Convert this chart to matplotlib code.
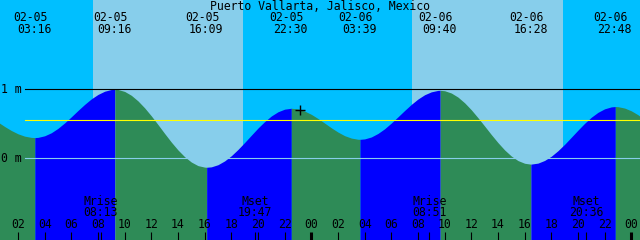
import matplotlib
matplotlib.use("Agg")
import matplotlib.pyplot as plt
import matplotlib.transforms as mtransforms
import numpy as np

# ---------------- data ----------------
title = "Puerto Vallarta, Jalisco, Mexico"

# half-hourly tide heights (m), hours counted from 02-05 00:00
hours = np.arange(0, 49.5, 0.5)
heights = [0.591, 0.525, 0.461, 0.403, 0.355, 0.321, 0.303, 0.303, 0.326, 0.370,
           0.434, 0.513, 0.601, 0.693, 0.781, 0.861, 0.925, 0.972, 0.997, 0.997,
           0.969, 0.913, 0.832, 0.731, 0.615, 0.489, 0.360, 0.235, 0.121, 0.023,
           -0.054, -0.106, -0.128, -0.124, -0.093, -0.038, 0.037, 0.128, 0.229, 0.334,
           0.438, 0.532, 0.613, 0.674, 0.712, 0.725, 0.715, 0.684, 0.637, 0.577,
           0.510, 0.442, 0.380, 0.328, 0.293, 0.276, 0.281, 0.309, 0.360, 0.428,
           0.511, 0.601, 0.693, 0.781, 0.859, 0.921, 0.963, 0.984, 0.979, 0.946,
           0.887, 0.804, 0.703, 0.588, 0.467, 0.344, 0.227, 0.121, 0.033, -0.033,
           -0.072, -0.084, -0.070, -0.031, 0.030, 0.110, 0.203, 0.305, 0.408, 0.507,
           0.595, 0.666, 0.717, 0.745, 0.748, 0.728, 0.688, 0.631, 0.560]

# high / low tide events
extreme_times = ["02-05 03:16", "02-05 09:16", "02-05 16:09", "02-05 22:30",
                 "02-06 03:39", "02-06 09:40", "02-06 16:28", "02-06 22:48"]
extreme_heights = [0.30, 1.00, -0.13, 0.725, 0.275, 0.985, -0.085, 0.75]

sunrise_times = ["02-05 07:38", "02-06 07:33"]
sunset_times = ["02-05 18:53", "02-06 18:53"]

moon_events = ["Mrise", "Mset", "Mrise", "Mset"]
moon_times = ["02-05 08:13", "02-05 19:47", "02-06 08:51", "02-06 20:36"]

now_time = "02-05 23:09"
now_height = 0.70

msl_level = 0.55
ref_levels = [0, 1]
ref_labels = ["0 m", "1 m"]

tick_hours = list(range(2, 49, 2))

# ---------------- style ----------------
NIGHT = "#00BFFF"
DAY = "#87CEEB"
FLOOD = "#0000FF"
EBB = "#2E8B57"
DATUM = "#87CEEB"
FONT = "DejaVu Sans Mono"
FS = 8.3

W, H = 640, 240
T0 = 0.6525          # view start (hours)
SPAN = 48.0
YTOP, YBOT = 2.294, -1.184


def to_hours(s):
    day = int(s[3:5]) - 5
    return day * 24 + int(s[6:8]) + int(s[9:11]) / 60.0


ext_t = [to_hours(s) for s in extreme_times]

# merged curve
pts = sorted(set(list(zip(hours.tolist(), heights)) + list(zip(ext_t, extreme_heights))))
t = np.array([p[0] for p in pts])
h = np.array([p[1] for p in pts])

fig = plt.figure(figsize=(W / 100, H / 100), dpi=100)
ax = fig.add_axes([0, 0, 1, 1])
ax.set_xlim(T0, T0 + SPAN)
ax.set_ylim(YBOT, YTOP)
ax.axis("off")
ax.add_patch(plt.Rectangle((0, 0), 1, 1, transform=ax.transAxes,
                           color=NIGHT, zorder=0, lw=0))

for sr, ss in zip(sunrise_times, sunset_times):
    ax.axvspan(to_hours(sr), to_hours(ss), color=DAY, lw=0, zorder=1)

# water, coloured by rising / falling
rising = h[1:] > h[:-1]
start = 0
for i in range(1, len(rising) + 1):
    if i == len(rising) or rising[i] != rising[start]:
        col = FLOOD if rising[start] else EBB
        ax.fill_between(t[start:i + 1], h[start:i + 1], YBOT - 1,
                        color=col, lw=0, zorder=2, antialiased=False)
        start = i

px = lambda p: p / W  # pixel -> axes x fraction
py = lambda p: 1 - p / H  # pixel from top -> axes y fraction

# reference lines
for lvl, col in zip(ref_levels, [DATUM, "black"]):
    ax.axhline(lvl, xmin=px(25), xmax=1, color=col, lw=0.8, zorder=3)
ax.axhline(msl_level, xmin=px(25), xmax=1, color="yellow", lw=0.8, zorder=3)

for lvl, lab in zip(ref_levels, ref_labels):
    ax.text(px(1), lvl, lab, transform=mtransforms.blended_transform_factory(
        ax.transAxes, ax.transData), ha="left", va="center",
        fontsize=FS, family=FONT, color="black", zorder=5)

# "now" marker
ax.plot([to_hours(now_time)], [now_height], marker="+", color="black",
        ms=7, mew=1.0, zorder=5)

bt = mtransforms.blended_transform_factory(ax.transData, ax.transAxes)

# title and tide event labels
ax.text(0.5, py(6), title, transform=ax.transAxes, ha="center", va="center",
        fontsize=FS, family=FONT, zorder=5)
for s, tt in zip(extreme_times, ext_t):
    ax.text(tt - 4.5 / 13.333, py(17.5), s[:5], transform=bt, ha="center",
            va="center", fontsize=FS, family=FONT, zorder=5)
    ax.text(tt - 0.5 / 13.333, py(29.5), s[6:], transform=bt, ha="center",
            va="center", fontsize=FS, family=FONT, zorder=5)

# moon events
for ev, s in zip(moon_events, moon_times):
    mt = to_hours(s)
    ax.text(mt, py(201.5), ev, transform=bt, ha="center", va="center",
            fontsize=FS, family=FONT, zorder=5)
    ax.text(mt, py(213), s[6:], transform=bt, ha="center", va="center",
            fontsize=FS, family=FONT, zorder=5)
    ax.vlines(mt, 0, py(232), transform=bt, color="black", lw=0.8, zorder=5)

# hour ticks
for th in tick_hours:
    lw = 2.2 if th % 24 == 0 else 0.8
    ax.vlines(th, 0, py(232), transform=bt, color="black", lw=lw, zorder=5)
    ax.text(th, py(225), "%02d" % (th % 24), transform=bt, ha="center",
            va="center", fontsize=FS, family=FONT, zorder=5)

fig.savefig("out.png", dpi=100)
